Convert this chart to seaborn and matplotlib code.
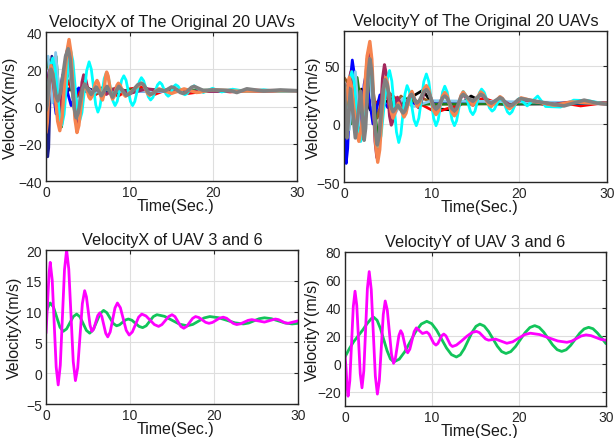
import matplotlib
matplotlib.use("Agg")
import matplotlib.pyplot as plt
import seaborn as sns
import pandas as pd

# ---------------- data (time [s], value) ----------------
# Top-left: VelocityX of the original 20 UAVs (representative visible curves)
tx_navy = [(0, -5), (0.1, -17), (0.2, -27), (0.325, -22), (0.45, 0), (0.575, 20), (0.7, 27), (1.15, 14),
           (1.6, 9.2), (4.8, 9.2), (8, 8.5), (30, 8.5)]
tx_blue = [(0, 5), (0.45, 22), (1.2, -4), (2.0, 17), (3.0, 0.5), (3.9, 10), (5, 8), (30, 8.5)]
tx_green = [(0, 20), (0.35, 25), (0.8, 3), (1.2, 27), (1.85, -11), (2.6, 24), (3.5, -4), (4.5, 13),
            (5.5, 6), (6.6, 10), (8, 7.5), (10, 9), (30, 8.5)]
tx_lightblue = [(0, 26), (0.25, 27), (0.75, 2), (1.15, 29), (1.8, -6), (2.6, 26), (3.5, -3), (4.5, 12),
                (5.6, 7), (7, 9.5), (9, 8), (30, 8.5)]
tx_coral = [(0, -14), (0.15, -8.7), (0.3, 4), (0.45, 16.7), (0.6, 22), (0.86, 16.9), (1.125, 4.5),
            (1.39, -7.9), (1.65, -13), (1.925, -5.8), (2.2, 11.5), (2.475, 28.8), (2.75, 36), (2.99, 28.7),
            (3.225, 11), (3.46, -6.7), (3.7, -14), (3.925, -10.2), (4.15, -1), (4.375, 8.2), (4.6, 12),
            (4.775, 10.8), (4.95, 8), (5.125, 5.2), (5.3, 4), (5.5, 5.5), (5.7, 9), (5.9, 12.5), (6.1, 14),
            (6.26, 12.5), (6.425, 8.75), (6.59, 5), (6.75, 3.5), (6.875, 5.7), (7.0, 11), (7.125, 16.3),
            (7.25, 18.5), (7.425, 16.4), (7.6, 11.25), (7.775, 6.1), (7.95, 4), (8.125, 5.2), (8.3, 8.25),
            (8.475, 11.3), (8.65, 12.5), (8.86, 11.5), (9.075, 9), (9.29, 6.5), (9.5, 5.5), (10.3, 8.5),
            (10.85, 10.5), (11.4, 12.5), (11.65, 11.55), (11.9, 9.25), (12.15, 6.95), (12.4, 6),
            (13.5, 9.5), (15, 7), (16.5, 9.5), (18, 7.5), (20, 9), (23, 8.2), (30, 8.5)]
tx_maroon = [(0, 8), (0.125, 9.75), (0.25, 14), (0.375, 18.25), (0.5, 20), (0.75, 16.35), (1.0, 7.5),
             (1.25, -1.35), (1.5, -5), (1.8, 0.55), (2.1, 14), (2.4, 27.45), (2.7, 33), (2.95, 26.7),
             (3.2, 11.5), (3.45, -3.7), (3.7, -10), (3.9, -6.05), (4.1, 3.5), (4.3, 13.05), (4.5, 17),
             (4.7, 15.4), (4.9, 11.5), (5.1, 7.6), (5.3, 6), (6.2, 10), (7.2, 6.5), (8.5, 10.5), (10, 7),
             (12, 9.5), (15, 8), (30, 8.5)]
tx_red = [(0, 8), (0.5, 15), (1.5, 0), (2.6, 14), (3.5, 4), (4.5, 12), (5.8, 6), (7.2, 10), (8.6, 5.5),
          (10, 9.5), (11.8, 10.5), (13, 6.5), (15, 10), (17, 7), (20, 8.8), (22, 7.8), (25, 8.8), (30, 8.5)]
tx_black = [(0, 8), (1, 12), (2, 4), (3, 11), (4, 5), (5, 10), (6, 7), (7.5, 9.5), (8.5, 6.5),
            (10, 8.5), (30, 8.5)]
tx_brown = [(0, 10), (0.8, 18), (1.7, 0), (2.7, 20), (3.7, 0), (4.7, 11), (6, 7), (8, 9.5), (10, 8), (30, 8.5)]
tx_cyan = [(0, 5), (0.2, 8.1), (0.4, 15.5), (0.6, 22.9), (0.8, 26), (1.075, 20.7), (1.35, 8), (1.625, -4.7),
           (1.9, -10), (2.16, -4.2), (2.425, 10), (2.69, 24.2), (2.95, 30), (3.21, 24.5), (3.475, 11),
           (3.74, -2.5), (4.0, -8), (4.29, -3.3), (4.575, 8), (4.86, 19.3), (5.15, 24), (5.41, 20.1),
           (5.675, 10.5), (5.94, 0.9), (6.2, -3), (6.45, 0.1), (6.7, 7.5), (6.95, 14.9), (7.2, 18),
           (7.46, 15.4), (7.725, 9.25), (7.99, 3.1), (8.25, 0.5), (8.51, 2.8), (8.775, 8.5), (9.04, 14.2),
           (9.3, 16.5), (9.56, 14.2), (9.825, 8.5), (10.09, 2.8), (10.35, 0.5), (10.61, 2.7), (10.875, 8),
           (11.14, 13.3), (11.4, 15.5), (11.675, 13.75), (11.95, 9.5), (12.225, 5.25), (12.5, 3.5),
           (12.775, 4.9), (13.05, 8.25), (13.325, 11.6), (13.6, 13), (13.85, 11.9), (14.1, 9.25),
           (14.35, 6.6), (14.6, 5.5), (14.825, 6.4), (15.05, 8.6), (15.275, 10.8), (15.5, 11.7),
           (15.775, 10.9), (16.05, 9), (16.325, 7.1), (16.6, 6.3), (16.875, 7), (17.15, 8.7), (17.425, 10.4),
           (17.7, 11.1), (18.25, 9.3), (18.8, 7.5), (19.9, 9.8), (21, 7.8), (22.3, 9.3), (24, 8), (26, 9),
           (28, 8.1), (30, 8.5)]
tx_gray = [(0, -2), (0.15, 1.2), (0.3, 9), (0.45, 16.8), (0.6, 20), (0.8, 17.5), (1.0, 11.5), (1.2, 5.5),
           (1.4, 3), (1.71, 7.1), (2.025, 17), (2.34, 26.9), (2.65, 31), (2.89, 25.6), (3.125, 12.5),
           (3.36, -0.6), (3.6, -6), (3.85, -3.4), (4.1, 3), (4.35, 9.4), (4.6, 12), (5.0, 9.25), (5.4, 6.5),
           (5.7, 8.5), (6.0, 10.5), (6.3, 8.15), (6.6, 5.8), (6.95, 8.3), (7.3, 10.8), (7.625, 7.9),
           (7.95, 5), (8.325, 7.9), (8.7, 10.8), (9.15, 8.4), (9.6, 6), (10.05, 6.9), (10.5, 9.25),
           (10.95, 11.6), (11.4, 12.5), (11.675, 11.6), (11.95, 9.5), (12.225, 7.4), (12.5, 6.5),
           (13.0, 7.75), (13.5, 9), (14.2, 8.3), (14.6, 9.4), (15.0, 10.5), (15.35, 10), (15.7, 8.75),
           (16.05, 7.5), (16.4, 7), (16.725, 7.55), (17.05, 8.9), (17.375, 10.25), (17.7, 10.8),
           (18.25, 9.7), (18.8, 8.6), (20, 8.9), (22, 8.6), (22.8, 7.5), (24, 9.5), (26, 8.3), (28, 8.9),
           (30, 8.5)]

# Top-right: VelocityY of the original 20 UAVs
ty_blue = [(0, 10), (0.125, -12), (0.25, -34), (0.425, -21), (0.6, 10.5), (0.775, 42), (0.95, 55),
           (1.14, 45.2), (1.325, 21.5), (1.51, -2.2), (1.7, -12), (1.9, -4.1), (2.1, 15), (2.3, 34.1),
           (2.5, 42), (2.9, 21), (3.3, 0), (3.7, 12.5), (4.1, 25), (5, 14), (6, 19), (7, 17.5), (30, 17.5)]
ty_maroon = [(0, 20), (0.4, 32.5), (0.8, 45), (1.05, 37), (1.3, 17.5), (1.55, -2), (1.8, -10), (2.08, 1.25),
             (2.365, 28.5), (2.65, 55.75), (2.93, 67), (3.135, 53), (3.34, 19), (3.545, -15), (3.75, -29),
             (3.97, -17.3), (4.185, 11), (4.4, 39.3), (4.62, 51), (4.815, 43.4), (5.01, 25), (5.205, 6.6),
             (5.4, -1), (5.575, 2.5), (5.75, 11), (5.925, 19.5), (6.1, 23), (6.45, 17.5), (6.8, 12),
             (7.25, 19.5), (7.7, 27), (8.1, 20.5), (8.5, 14), (8.725, 16.3), (8.95, 22), (9.175, 27.7),
             (9.4, 30), (9.675, 27.5), (9.95, 21.5), (10.225, 15.5), (10.5, 13), (10.75, 14.75), (11, 19),
             (11.25, 23.25), (11.5, 25), (11.775, 22.8), (12.05, 17.5), (12.325, 12.2), (12.6, 10),
             (12.85, 12.2), (13.1, 17.5), (13.35, 22.8), (13.6, 25), (14.7, 16), (15.6, 26), (16.8, 16),
             (17.8, 22), (19, 16), (20.3, 21), (22, 19), (24, 17), (26, 19), (28, 18.5), (30, 18)]
ty_coral = [(0, 5), (0.3, 22.5), (0.6, 40), (0.875, 32), (1.15, 12.5), (1.425, -7), (1.7, -15), (2.01, -2.4),
            (2.325, 28), (2.64, 58.4), (2.95, 71), (3.175, 55.8), (3.4, 19), (3.625, -17.8), (3.85, -33),
            (4.075, -22.3), (4.3, 3.5), (4.525, 29.3), (4.75, 40), (4.96, 34.9), (5.175, 22.5), (5.39, 10.1),
            (5.6, 5), (5.9, 11.5), (6.2, 18), (6.525, 12), (6.85, 6), (7.075, 9.2), (7.3, 17), (7.525, 24.8),
            (7.75, 28), (8.05, 21.5), (8.35, 15), (8.61, 17.6), (8.875, 24), (9.14, 30.4), (9.4, 33),
            (9.675, 29.35), (9.95, 20.5), (10.225, 11.65), (10.5, 8), (10.75, 10.8), (11.0, 17.5),
            (11.25, 24.2), (11.5, 27), (11.775, 24.1), (12.05, 17), (12.325, 9.9), (12.6, 7), (12.85, 10),
            (13.1, 17.25), (13.35, 24.5), (13.6, 27.5), (14.15, 21.75), (14.7, 16), (15.15, 21.75),
            (15.6, 27.5), (15.9, 25.7), (16.2, 21.25), (16.5, 16.8), (16.8, 15), (17.3, 19.25), (17.8, 23.5),
            (18.075, 22), (18.35, 18.25), (18.625, 14.5), (18.9, 13), (19.55, 17.75), (20.2, 22.5),
            (22, 19), (24, 16), (26, 19), (28, 18), (30, 17.5)]
ty_cyan = [(0, 20), (0.45, 32.5), (0.9, 45), (1.15, 36.2), (1.4, 15), (1.65, -6.2), (1.9, -15), (2.15, -5.5),
           (2.4, 17.5), (2.65, 40.5), (2.9, 50), (3.15, 39.8), (3.4, 15), (3.65, -9.8), (3.9, -20),
           (4.225, -10.4), (4.55, 13), (4.875, 36.4), (5.2, 46), (5.46, 36.9), (5.725, 15), (5.99, -7),
           (6.25, -16), (6.49, -8.8), (6.725, 8.5), (6.96, 25.8), (7.2, 33), (7.46, 28), (7.725, 15.75),
           (7.99, 3.5), (8.25, -1.5), (8.54, 5), (8.825, 20.75), (9.11, 36.5), (9.4, 43), (9.675, 36.5),
           (9.95, 20.75), (10.225, 5), (10.5, -1.5), (10.75, 3.5), (11.0, 15.5), (11.25, 27.5), (11.5, 32.5),
           (11.775, 27.5), (12.05, 15.5), (12.325, 3.5), (12.6, -1.5), (12.85, 2.8), (13.1, 13.25),
           (13.35, 23.7), (13.6, 28), (13.875, 25.1), (14.15, 18), (14.425, 10.9), (14.7, 8), (14.95, 11.2),
           (15.2, 19), (15.45, 26.8), (15.7, 30), (16.0, 27.2), (16.3, 20.5), (16.6, 13.8), (16.9, 11),
           (17.15, 12.6), (17.4, 16.4), (17.65, 20.2), (17.9, 21.8), (18.15, 19.9), (18.4, 15.15),
           (18.65, 10.4), (18.9, 8.5), (19.175, 10.5), (19.45, 15.25), (19.725, 20), (20.0, 22),
           (20.45, 18.75), (20.9, 15.5), (21.5, 19.75), (22.1, 24), (22.55, 19.5), (23, 15), (24.7, 14.5),
           (25.45, 17.5), (26.2, 20.5), (27.9, 20), (30, 17)]
ty_black = [(0, 25), (1, 10), (2, 30), (3, 12), (4.2, 22), (5.5, 17), (7, 20), (9, 29), (10.5, 13),
            (12.5, 12), (14.5, 24), (16, 18), (18, 17), (30, 17.5)]
ty_red = [(0, 18), (2, 22), (4, 18), (5.3, 26), (6.5, 18), (8, 20), (10.5, 10), (12.5, 15), (14.5, 20),
          (16, 22), (17.5, 18), (19.5, 17), (21, 20), (23, 16.5), (25, 18), (27, 15.5), (29, 17.5), (30, 17)]
ty_brown = [(0, 40), (0.5, 35), (1.2, 5), (1.8, 30), (2.4, 0), (3.0, 45), (3.8, 5), (4.6, 30), (5.5, 12),
            (6.5, 24), (7.7, 16), (9, 22), (10.5, 17), (30, 18)]
ty_lightblue = [(0, 30), (0.6, -5), (1.3, 45), (1.9, -15), (2.8, 55), (3.8, -25), (4.7, 40), (5.6, 5),
                (6.7, 22), (8, 15), (10, 20), (30, 18)]
ty_green = [(0, 35), (0.8, 0), (1.5, 40), (2.3, -5), (3, 50), (3.9, -15), (4.8, 35), (5.8, 10), (7, 22),
            (9, 17), (30, 18)]
ty_gray = [(0, 35), (0.175, 11.5), (0.35, -12), (0.55, 9), (0.75, 30), (1.025, 9), (1.3, -12), (1.6, 8),
           (1.9, 28), (2.1, 7), (2.3, -14), (2.46, -3.8), (2.625, 21), (2.79, 45.8), (2.95, 56), (3.16, 45.2),
           (3.375, 19), (3.59, -7.2), (3.8, -18), (4.025, -9.8), (4.25, 10), (4.475, 29.8), (4.7, 38),
           (4.925, 34), (5.15, 24.25), (5.375, 14.5), (5.6, 10.5), (6.15, 16), (6.75, 9.5), (6.99, 11.8),
           (7.225, 17.5), (7.46, 23.2), (7.7, 25.5), (8.3, 18), (8.575, 19.7), (8.85, 23.75), (9.125, 27.8),
           (9.4, 29.5), (9.675, 27.05), (9.95, 21.1), (10.225, 15.15), (10.5, 12.7), (10.75, 14.35),
           (11.0, 18.35), (11.25, 22.35), (11.5, 24), (11.775, 22.15), (12.05, 17.65), (12.325, 13.15),
           (12.6, 11.3), (12.85, 13.35), (13.1, 18.35), (13.35, 23.35), (13.6, 25.4), (14.15, 22.45),
           (14.7, 19.5), (15.15, 22.45), (15.6, 25.4), (15.9, 24.3), (16.2, 21.6), (16.5, 18.9),
           (16.8, 17.8), (17.3, 20.2), (17.8, 22.6), (18.075, 21.55), (18.35, 19.05), (18.625, 16.55),
           (18.9, 15.5), (19.225, 16.4), (19.55, 18.65), (19.875, 20.9), (20.2, 21.8), (21.7, 19.8),
           (23.2, 17.8), (25.1, 15.5), (27.4, 20.5), (28.9, 17.8), (30, 17)]

# Bottom-left: VelocityX of UAV 3 (green) and UAV 6 (magenta)
uav3_vx = [(0, 9.8), (0.125, 10.3), (0.25, 10.75), (0.375, 11.15), (0.5, 11.4), (0.89, 10.73), (1.275, 9.1),
           (1.66, 7.47), (2.05, 6.8), (2.45, 7.2), (2.85, 8.2), (3.25, 9.2), (3.65, 9.6), (4.04, 9.15),
           (4.425, 8.05), (4.81, 6.95), (5.2, 6.5), (5.61, 7.04), (6.025, 8.35), (6.44, 9.66), (6.85, 10.2),
           (7.24, 9.83), (7.625, 8.95), (8.01, 8.07), (8.4, 7.7), (8.75, 7.86), (9.1, 8.25), (9.45, 8.64),
           (9.8, 8.8), (10.225, 8.6), (10.65, 8.1), (11.075, 7.6), (11.5, 7.4), (11.925, 7.7), (12.35, 8.45),
           (12.775, 9.2), (13.2, 9.5), (14.1, 9.24), (15.0, 8.6), (15.9, 7.96), (16.8, 7.7), (17.475, 7.92),
           (18.15, 8.45), (18.825, 8.98), (19.5, 9.2), (20.5, 9.02), (21.5, 8.6), (22.5, 8.18), (23.5, 8.0),
           (24.125, 8.15), (24.75, 8.5), (25.375, 8.85), (26, 9.0), (26.825, 8.85), (27.65, 8.5),
           (28.475, 8.15), (29.3, 8.0), (30, 8.1)]
uav6_vx = [(0, 6.5), (0.125, 9.8), (0.25, 13.2), (0.375, 16.4), (0.5, 18), (0.74, 15.1), (0.975, 8.05),
           (1.21, 1.0), (1.45, -1.9), (1.7, 1.3), (1.95, 9.05), (2.2, 16.8), (2.45, 20), (2.71, 16.9),
           (2.975, 9.4), (3.24, 1.9), (3.5, -1.2), (3.775, 0.9), (4.05, 6.1), (4.325, 11.3), (4.6, 13.4),
           (4.81, 12.4), (5.025, 10.1), (5.24, 7.8), (5.45, 6.8), (5.69, 7.24), (5.925, 8.3), (6.16, 9.36),
           (6.4, 9.8), (6.64, 9.23), (6.875, 7.85), (7.11, 6.47), (7.35, 5.9), (7.64, 6.7), (7.925, 8.65),
           (8.21, 10.6), (8.5, 11.4), (8.85, 10.64), (9.2, 8.8), (9.55, 6.96), (9.9, 6.2), (10.275, 6.7),
           (10.65, 7.9), (11.025, 9.1), (11.4, 9.6), (11.9, 9.3), (12.4, 8.6), (12.9, 7.9), (13.4, 7.6),
           (13.8, 7.9), (14.2, 8.55), (14.6, 9.2), (15, 9.5), (15.35, 9.2), (15.7, 8.4), (16.05, 7.6),
           (16.4, 7.3), (16.75, 7.6), (17.1, 8.25), (17.45, 8.9), (17.8, 9.2), (18.2, 9.04), (18.6, 8.65),
           (19.0, 8.26), (19.4, 8.1), (19.825, 8.25), (20.25, 8.6), (20.675, 8.95), (21.1, 9.1), (21.5, 8.92),
           (21.9, 8.5), (22.3, 8.08), (22.7, 7.9), (23.15, 8.02), (23.6, 8.3), (24.05, 8.58), (24.5, 8.7),
           (25.25, 8.5), (26, 8.3), (26.65, 8.55), (27.3, 8.8), (27.675, 8.7), (28.05, 8.45), (28.425, 8.2),
           (28.8, 8.1), (29.4, 8.3), (30, 8.5)]

# Bottom-right: VelocityY of UAV 3 (green) and UAV 6 (magenta)
uav3_vy = [(0, 5), (0.5, 11), (1.0, 16), (1.5, 20), (2.0, 24), (2.5, 28.5), (3.0, 32.3), (3.3, 33.4),
           (3.683, 31.26), (4.067, 25.4), (4.45, 17.45), (4.833, 9.5), (5.217, 3.64), (5.6, 1.5),
           (6.233, 3.44), (6.867, 8.75), (7.5, 16), (8.133, 23.25), (8.767, 28.56), (9.4, 30.5),
           (9.967, 28.8), (10.533, 24.1), (11.1, 17.75), (11.667, 11.4), (12.233, 6.7), (12.8, 5),
           (13.25, 6.57), (13.7, 10.9), (14.15, 16.75), (14.6, 22.6), (15.05, 26.9), (15.5, 28.5),
           (16.0, 27.1), (16.5, 23.25), (17.0, 18), (17.5, 12.75), (18.0, 8.9), (18.5, 7.5),
           (19.05, 8.83), (19.6, 12.5), (20.15, 17.45), (20.7, 22.4), (21.25, 26.07), (21.8, 27.4),
           (22.317, 26.17), (22.833, 22.8), (23.35, 18.2), (23.867, 13.6), (24.383, 10.23), (24.9, 9),
           (25.417, 10.15), (25.933, 13.3), (26.45, 17.6), (26.967, 21.9), (27.483, 25.05), (28, 26.2),
           (28.5, 25.2), (29.0, 22.2), (29.5, 18.5), (30, 14.5)]
uav6_vy = [(0, 6), (0.12, -3), (0.24, -16), (0.35, -23), (0.55, -12), (0.75, 14.5), (0.95, 41), (1.15, 52),
           (1.35, 41.9), (1.55, 17.5), (1.75, -6.9), (1.95, -17), (2.16, -4.9), (2.365, 24.5), (2.57, 53.9),
           (2.78, 66), (3.015, 53.2), (3.25, 22.25), (3.485, -8.7), (3.72, -21.5), (3.945, -11.8),
           (4.17, 11.75), (4.395, 35.3), (4.62, 45), (4.86, 38.5), (5.1, 22.75), (5.34, 7.0), (5.58, 0.5),
           (5.785, 3.9), (5.99, 12.15), (6.195, 20.4), (6.4, 23.8), (6.6, 21.5), (6.8, 15.9), (7.0, 10.3),
           (7.2, 8), (7.45, 10.6), (7.7, 16.9), (7.95, 23.2), (8.2, 25.8), (8.55, 23.8), (8.9, 21.8),
           (9.15, 22.3), (9.4, 22.8), (9.66, 21.4), (9.925, 18.15), (10.19, 14.9), (10.45, 13.5),
           (10.675, 14.65), (10.9, 17.45), (11.125, 20.25), (11.35, 21.4), (11.6, 20.1), (11.85, 16.95),
           (12.1, 13.8), (12.35, 12.5), (12.8, 13.5), (13.4, 16.5), (14.0, 19.8), (14.6, 22.5), (15.1, 23.3),
           (15.45, 22.4), (15.8, 20.15), (16.15, 17.9), (16.5, 17), (16.9, 17.4), (17.3, 17.8), (17.95, 16.3),
           (18.6, 14.8), (19.275, 15.85), (19.95, 18.4), (20.625, 20.95), (21.3, 22), (22.35, 21.05),
           (23.4, 18.75), (24.45, 16.45), (25.5, 15.5), (26.05, 16.3), (26.6, 18.15), (27.15, 20.0),
           (27.7, 20.8), (28.275, 20.25), (28.85, 18.9), (29.425, 17.55), (30, 17)]

x_ticks = [0, 10, 20, 30]

# ---------------- figure ----------------
sns.set_style("white")
plt.rcParams["font.family"] = ["Liberation Sans", "DejaVu Sans"]

fig = plt.figure(figsize=(6.16, 4.39), dpi=100)
ax_tl = fig.add_axes([0.0747, 0.5854, 0.4075, 0.3394])
ax_tr = fig.add_axes([0.5584, 0.5831, 0.4269, 0.3440])
ax_bl = fig.add_axes([0.0747, 0.0774, 0.4091, 0.3508])
ax_br = fig.add_axes([0.5601, 0.0729, 0.4237, 0.3508])

C = {
    "navy": "#1c1f8c", "blue": "#0000ff", "green": "#1f7f1f", "lightblue": "#86c8ec",
    "coral": "#f6844f", "maroon": "#a3285c", "red": "#ff0000", "black": "#000000",
    "brown": "#9c6326", "cyan": "#00ffff", "gray": "#808080",
}


def draw(ax, series):
    for data, color, lw in series:
        df = pd.DataFrame(data, columns=["t", "v"])
        sns.lineplot(data=df, x="t", y="v", color=color, linewidth=lw, ax=ax,
                     estimator=None, sort=False)


draw(ax_tl, [
    (tx_black, C["black"], 2.0), (tx_red, C["red"], 2.0), (tx_brown, C["brown"], 2.0),
    (tx_navy, C["navy"], 2.0), (tx_blue, C["blue"], 2.0), (tx_green, C["green"], 2.0),
    (tx_lightblue, C["lightblue"], 2.0), (tx_maroon, C["maroon"], 2.2),
    (tx_cyan, C["cyan"], 2.0), (tx_coral, C["coral"], 2.4), (tx_gray, C["gray"], 2.6),
])
draw(ax_tr, [
    (ty_black, C["black"], 2.0), (ty_red, C["red"], 2.0), (ty_brown, C["brown"], 2.0),
    (ty_blue, C["blue"], 2.0), (ty_green, C["green"], 2.0), (ty_lightblue, C["lightblue"], 2.0),
    (ty_maroon, C["maroon"], 2.2), (ty_cyan, C["cyan"], 2.0), (ty_coral, C["coral"], 2.4),
    (ty_gray, C["gray"], 2.6),
])
draw(ax_bl, [(uav3_vx, "#12c45a", 2.0), (uav6_vx, "#ff00ff", 2.0)])
draw(ax_br, [(uav3_vy, "#12c45a", 2.0), (uav6_vy, "#ff00ff", 2.0)])


def style(ax, title, ylabel, ylim, yticks, ylab_x, xlab_y):
    ax.set_xlim(0, 30)
    ax.set_ylim(*ylim)
    ax.set_xticks(x_ticks)
    ax.set_yticks(yticks)
    ax.grid(True, color="#dedede", linewidth=0.8)
    ax.set_axisbelow(True)
    for sp in ax.spines.values():
        sp.set_visible(True)
        sp.set_color("#262626")
        sp.set_linewidth(1.0)
    ax.tick_params(direction="in", length=3, width=0.8, colors="#262626", labelsize=10,
                   top=True, right=True, pad=3)
    ax.set_title(title, fontsize=11.7, pad=4, color="#1a1a1a")
    ax.set_xlabel("Time(Sec.)", fontsize=11.5, color="#1a1a1a")
    ax.xaxis.label.set_verticalalignment("top")
    ax.xaxis.set_label_coords(0.514, xlab_y)
    ax.set_ylabel(ylabel, fontsize=11.5, color="#1a1a1a", va="center")
    ax.yaxis.set_label_coords(ylab_x, 0.5)


style(ax_tl, "VelocityX of The Original 20 UAVs", "VelocityX(m/s)", (-40, 40), [-40, -20, 0, 20, 40], -0.143, -0.115)
style(ax_tr, "VelocityY of The Original 20 UAVs", "VelocityY(m/s)", (-50, 80), [-50, 0, 50], -0.118, -0.113)
style(ax_bl, "VelocityX of UAV 3 and 6", "VelocityX(m/s)", (-5, 20), [-5, 0, 5, 10, 15, 20], -0.127, -0.112)
style(ax_br, "VelocityY of UAV 3 and 6", "VelocityY(m/s)", (-30, 80), [-20, 0, 20, 40, 60, 80], -0.123, -0.112)

fig.savefig("out.png", dpi=100)
